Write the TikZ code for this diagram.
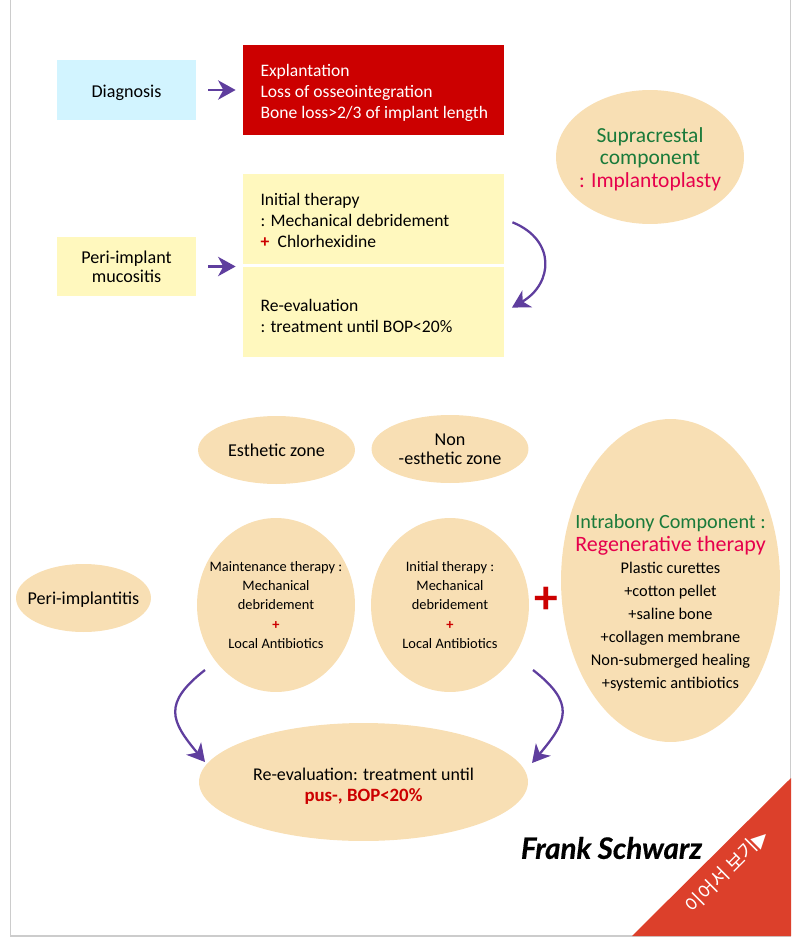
\documentclass[tikz,border=0pt]{standalone}
\usepackage{fontspec}
\setmainfont{Carlito}
\newfontfamily\krfont{Noto Sans CJK KR}
\newfontfamily\symfont{DejaVu Sans}
\newfontfamily\namefont{Lato}[BoldItalicFeatures={FakeBold=0.5}]
\usetikzlibrary{arrows.meta,shapes.geometric}
\definecolor{sand}{HTML}{F8DFB4}
\definecolor{lemon}{HTML}{FFF8BE}
\definecolor{sky}{HTML}{D2F4FF}
\definecolor{crimson}{HTML}{CC0000}
\definecolor{grape}{HTML}{5F3E9E}
\definecolor{brick}{HTML}{DC402B}
\definecolor{leaf}{HTML}{1A7A3A}
\definecolor{rose}{HTML}{E6004C}
\tikzset{
  txt/.style 2 args={font=\fontsize{#1}{#2}\selectfont},
  tag/.style={inner sep=0, minimum width=2.78cm, minimum height=1.2cm, align=center, txt={10.3}{11}},
  panel/.style={inner ysep=0, inner xsep=0.35cm, text width=4.52cm, minimum height=1.8cm, align=flush left, txt={10}{12}},
  blob/.style={ellipse, fill=sand, inner sep=-4cm, align=center, txt={10.3}{11}},
  flow/.style={grape, line width=1.3pt, -{Stealth[length=10pt,width=11pt,inset=3pt]}}
}
\begin{document}
\begin{tikzpicture}[x=0.02cm,y=-0.02cm]
\useasboundingbox (0,0) rectangle (800,940);
\draw[black!20, line width=0.6pt] (10.5,0) -- (10.5,936) -- (790.5,936) -- (790.5,0);

% top boxes
\node[tag, fill=sky] (diag) at (126.5,90) {\rule{0pt}{10pt}Diagnosis};
\node[panel, fill=crimson, text=white] (expl) at (373.5,90) {\rule{0pt}{10.5pt}Explantation\\Loss of osseointegration\\\mbox{Bone loss>2/3 of implant length}};
\node[tag, fill=lemon] (muco) at (126.5,266.5) {Peri-implant\\mucositis};
\node[panel, fill=lemon] (init) at (373.5,219) {\rule{0pt}{8.5pt}Initial therapy\\: Mechanical debridement\\{\color{crimson}\textbf{+}}\hspace{2.5pt} Chlorhexidine};
\node[panel, fill=lemon] (reev) at (373.5,312) {\rule{0pt}{11pt}Re-evaluation\\: treatment until BOP<20\%};
\node[blob, minimum width=3.76cm, minimum height=2.68cm, txt={12.2}{13}] (supra) at (650,157) {\rule{0pt}{11pt}\textcolor{leaf}{Supracrestal}\\\textcolor{leaf}{component}\\\textcolor{rose}{: Implantoplasty}};

% lower ellipses
\node[blob, minimum width=3.14cm, minimum height=1.36cm] (esth) at (276.5,450) {Esthetic zone};
\node[blob, minimum width=3.14cm, minimum height=1.36cm] (nonesth) at (450,449) {Non\\-esthetic zone};
\node[blob, minimum width=2.7cm, minimum height=1.36cm] (peri) at (83.5,598) {\rule{0pt}{9pt}Peri-implantitis};
\node[blob, minimum width=3.16cm, minimum height=3.48cm, txt={8.2}{11}] (maint) at (276,605) {Maintenance therapy :\\Mechanical\\debridement\\{\color{crimson}\textbf{+}}\\Local Antibiotics};
\node[blob, minimum width=3.16cm, minimum height=3.48cm, txt={8.2}{11}] (inith) at (450,605) {Initial therapy :\\Mechanical\\debridement\\{\color{crimson}\textbf{+}}\\Local Antibiotics};
\node[blob, minimum width=4.38cm, minimum height=6.46cm, txt={9.3}{13}] (intra) at (670.5,580.5) {\mbox{}\\[20pt]{\fontsize{11.5}{13}\selectfont\textcolor{leaf}{Intrabony Component :}}\\{\fontsize{12.5}{13}\selectfont\textcolor{rose}{Regenerative therapy}}\\Plastic curettes\\+cotton pellet\\+saline bone\\+collagen membrane\\Non-submerged healing\\+systemic antibiotics};
\node[txt={27}{27}, text=crimson, inner sep=0] (plus) at (546,600) {\textbf{+}};
\node[blob, minimum width=6.58cm, minimum height=2.36cm, txt={10.2}{12}] (final) at (363.5,782) {\rule{0pt}{12pt}Re-evaluation: treatment until\\{\fontsize{10.7}{12}\selectfont\textcolor{crimson}{\textbf{pus-, BOP<20\%}}}};

\node[font=\namefont\bfseries\itshape\fontsize{16.8}{18}\selectfont, inner sep=0] (frank) at (611.5,848) {Frank Schwarz};
\fill[brick] (632,936) -- (791,778) -- (791,936) -- cycle;
\node[rotate=45, text=white, inner sep=0, txt={11}{12}] (more) at (727,871) {\krfont 이어서 보기\symfont ▶};

% edges
\coordinate (maintout) at (205,670);
\coordinate (finalin) at (205,762);
\coordinate (inithout) at (533,670);
\coordinate (finalout) at (532,763);
\draw[flow, shorten <=6.8pt, shorten >=4pt] (diag) -- (expl);
\draw[flow, shorten <=6.8pt, shorten >=4pt] (muco.east) -- (muco.east -| init.west);
\draw[flow, shorten <=5pt, shorten >=5pt] (init.east) to[out=-22, in=30, looseness=1.55] (reev.east);
\draw[flow] (maintout) to[out=218, in=130, looseness=1.5] (finalin);
\draw[flow] (inithout) to[out=-38, in=50, looseness=1.5] (finalout);
\end{tikzpicture}
\end{document}
